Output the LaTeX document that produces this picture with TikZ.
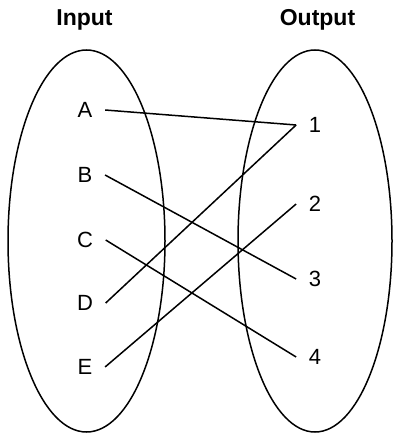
\documentclass[tikz,border=0pt]{standalone}
\usepackage{fontspec}
\setmainfont{Liberation Sans}
\usepackage{tikz}

\begin{document}
\begin{tikzpicture}[x=1pt, y=-1pt, line width=1.5pt,
    every node/.style={font=\fontsize{22}{26}\selectfont, inner xsep=12pt, inner ysep=0pt}]
    \useasboundingbox (0,0) rectangle (393,433);

    % titles
    \node[font=\fontsize{23}{27}\selectfont\bfseries] (in) at (84.5,20) {Input};
    \node[font=\fontsize{23}{27}\selectfont\bfseries] (out) at (317.5,20) {Output};

    % sets
    \draw (86.5,241) ellipse [x radius=78.5pt, y radius=191pt];
    \draw (315,241) ellipse [x radius=77pt, y radius=191pt];

    % inputs
    \node (a) at (85,110) {A};
    \node (b) at (85,175) {B};
    \node (c) at (85,240) {C};
    \node (d) at (85,303) {D};
    \node (e) at (85,367) {E};

    % outputs
    \node (o1) at (315,125) {1};
    \node (o2) at (315,204) {2};
    \node (o3) at (315,279) {3};
    \node (o4) at (315,357) {4};

    % mapping
    \draw (a.east) -- (o1.west);
    \draw (b.east) -- (o3.west);
    \draw (c.east) -- (o4.west);
    \draw (d.east) -- (o1.west);
    \draw (e.east) -- (o2.west);
\end{tikzpicture}
\end{document}
